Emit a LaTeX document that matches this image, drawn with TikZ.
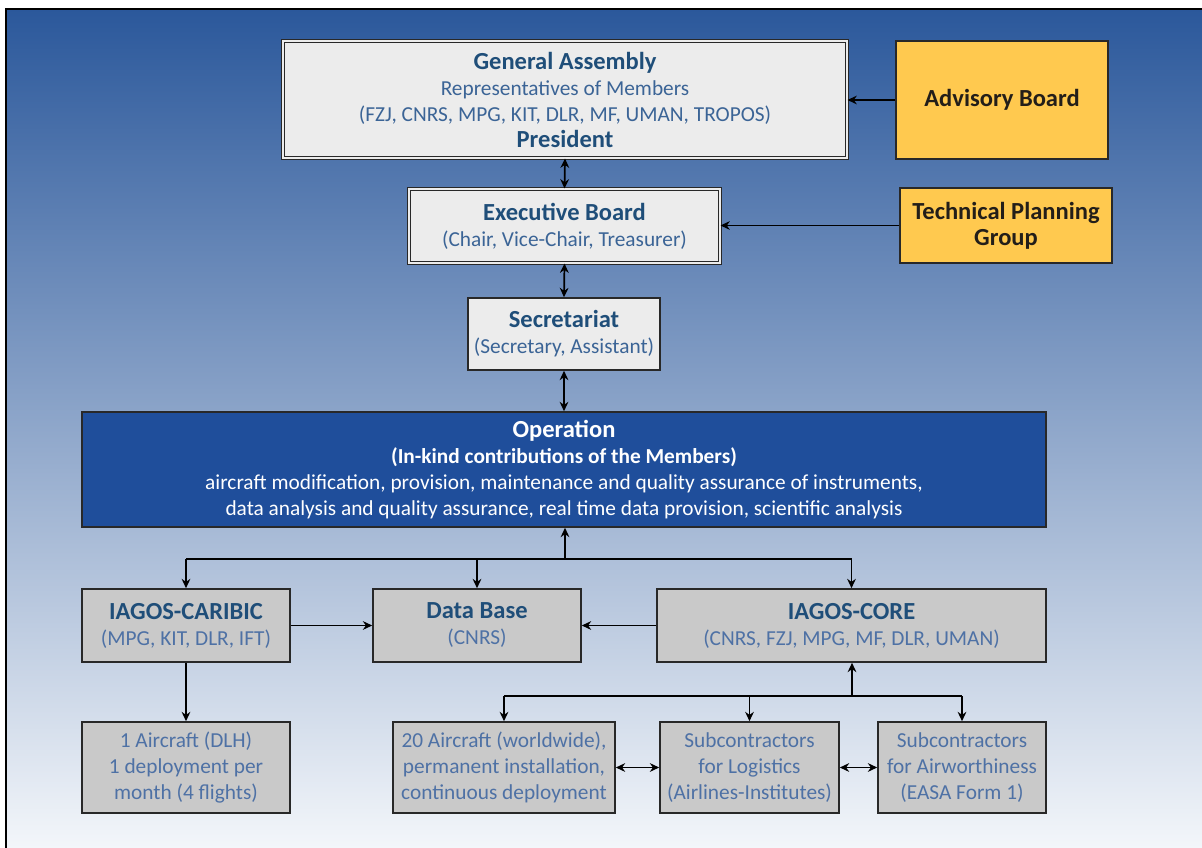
\documentclass[tikz,border=0pt]{standalone}
\usepackage{fontspec}
\setmainfont{Carlito}
\usetikzlibrary{arrows.meta}
\definecolor{bgtop}{RGB}{43,88,155}
\definecolor{bgbot}{RGB}{243,246,250}
\definecolor{lightfill}{RGB}{236,236,236}
\definecolor{greyfill}{RGB}{201,201,201}
\definecolor{opfill}{RGB}{31,78,155}
\definecolor{yelfill}{RGB}{255,201,79}
\definecolor{boxline}{RGB}{40,40,40}
\definecolor{titleblue}{RGB}{31,78,121}
\definecolor{subblue}{RGB}{59,100,150}
\definecolor{lowblue}{RGB}{78,113,165}
\definecolor{darktext}{RGB}{35,30,25}
\newcommand{\reg}{\fontsize{16}{19.5}\selectfont}
\newcommand{\ttl}{\bfseries\fontsize{18.4}{19.5}\selectfont}
\newcommand{\ybf}{\bfseries\fontsize{18.4}{21}\selectfont}
\begin{document}
\begin{tikzpicture}[x=0.75pt,y=-0.75pt,
  box/.style={draw=boxline, line width=1.2pt, align=center, inner sep=0pt, font=\reg},
  lightbox/.style={box, fill=lightfill, text=subblue},
  dblbox/.style={lightbox, double=lightfill, double distance=1.8pt, line width=0.75pt},
  greybox/.style={box, fill=greyfill, text=lowblue},
  yelbox/.style={box, fill=yelfill, text=darktext},
  opbox/.style={box, fill=opfill, text=white},
  tip/.tip={Stealth[length=7pt,width=6.5pt]},
  arr/.style={draw=black, line width=1.3pt, -tip},
  biarr/.style={draw=black, line width=1.3pt, tip-tip},
  ln/.style={draw=black, line width=1.3pt}]
\useasboundingbox (0,0) rectangle (1202,848);
\fill[white] (0,0) rectangle (1202,848);
\fill[top color=bgtop, bottom color=bgbot] (6,9) rectangle (1202,848);
\draw[line width=2.2pt, black] (6,848) -- (6,9) -- (1202,9);

% top row
\node[dblbox, minimum width=564*0.75pt, minimum height=117*0.75pt] (ga) at (565,99.5)
  {{\ttl\color{titleblue}General Assembly}\\Representatives of Members\\(FZJ, CNRS, MPG, KIT, DLR, MF, UMAN, TROPOS)\\{\ttl\color{titleblue}President}};
\node[yelbox, minimum width=212*0.75pt, minimum height=118*0.75pt] (ab) at (1002,100)
  {\ybf Advisory Board};
\node[dblbox, minimum width=311*0.75pt, minimum height=74*0.75pt] (eb) at (564.5,226)
  {{\ttl\color{titleblue}Executive Board}\\(Chair, Vice-Chair, Treasurer)};
\node[yelbox, minimum width=212*0.75pt, minimum height=75*0.75pt] (tpg) at (1006,225.5)
  {\ybf Technical Planning\\\ybf Group};
\node[lightbox, minimum width=192*0.75pt, minimum height=72*0.75pt] (sec) at (564,334)
  {{\ttl\color{titleblue}Secretariat}\\(Secretary, Assistant)};
\node[opbox, minimum width=964*0.75pt, minimum height=115*0.75pt] (op) at (564,469.5)
  {{\ttl Operation}\\{\bfseries (In-kind contributions of the Members)}\\aircraft modification, provision, maintenance and quality assurance of instruments,\\data analysis and quality assurance, real time data provision, scientific analysis};

% middle row
\node[greybox, minimum width=208*0.75pt, minimum height=73*0.75pt] (car) at (186,625.5)
  {{\ttl\color{titleblue}IAGOS-CARIBIC}\\(MPG, KIT, DLR, IFT)};
\node[greybox, minimum width=208*0.75pt, minimum height=73*0.75pt] (db) at (477,625.5)
  {{\ttl\color{titleblue}Data Base}\\(CNRS)};
\node[greybox, minimum width=389*0.75pt, minimum height=73*0.75pt] (core) at (851.5,625.5)
  {{\ttl\color{titleblue}IAGOS-CORE}\\(CNRS, FZJ, MPG, MF, DLR, UMAN)};

% bottom row
\node[greybox, minimum width=208*0.75pt, minimum height=91*0.75pt] (ac1) at (186,767.5)
  {1 Aircraft (DLH)\\1 deployment per\\month (4 flights)};
\node[greybox, minimum width=222*0.75pt, minimum height=91*0.75pt] (ac20) at (504,767.5)
  {20 Aircraft (worldwide),\\permanent installation,\\continuous deployment};
\node[greybox, minimum width=179*0.75pt, minimum height=91*0.75pt] (log) at (749.5,767.5)
  {Subcontractors\\for Logistics\\(Airlines-Institutes)};
\node[greybox, minimum width=168*0.75pt, minimum height=91*0.75pt] (air) at (962,767.5)
  {Subcontractors\\for Airworthiness\\(EASA Form 1)};

% connectors
\draw[biarr] (ga.south) -- (eb.north);
\draw[arr] (ab.west) -- (ab.west -| ga.east);
\draw[arr] (tpg.west) -- (tpg.west -| eb.east);
\draw[biarr] (eb.south) -- (sec.north);
\draw[biarr] (sec.south) -- (op.north);
\coordinate (j1) at (565,559);
\draw[arr] (j1) -- (j1 |- op.south);
\draw[ln] (car.north |- j1) -- (core.north |- j1);
\draw[arr] (car.north |- j1) -- (car.north);
\draw[arr] (db.north |- j1) -- (db.north);
\draw[arr] (core.north |- j1) -- (core.north);
\draw[arr] (car.east) -- (db.west);
\draw[arr] (core.west) -- (db.east);
\draw[arr] (car.south) -- (ac1.north);
\coordinate (j2) at (852,696);
\draw[arr] (j2) -- (j2 |- core.south);
\draw[ln] (ac20.north |- j2) -- (air.north |- j2);
\draw[arr] (ac20.north |- j2) -- (ac20.north);
\draw[arr] (log.north |- j2) -- (log.north);
\draw[arr] (air.north |- j2) -- (air.north);
\draw[biarr] (ac20.east) -- (log.west);
\draw[biarr] (log.east) -- (air.west);
\end{tikzpicture}
\end{document}
